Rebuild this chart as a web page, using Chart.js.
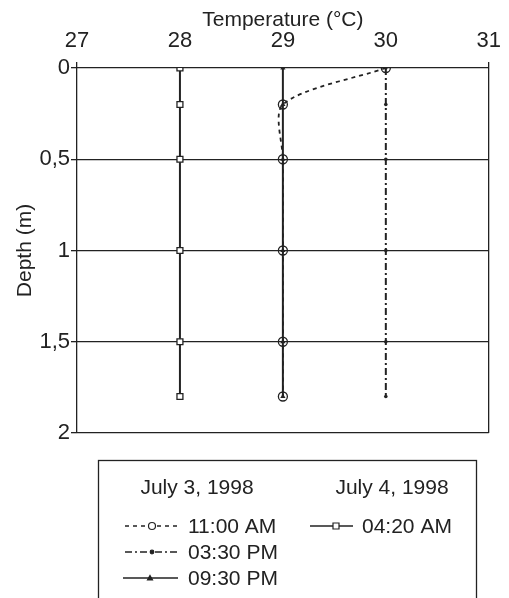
<!DOCTYPE html>
<html>
<head>
<meta charset="utf-8">
<script src="https://cdn.jsdelivr.net/npm/chart.js@4.4.1/dist/chart.umd.min.js"></script>
<style>
	html, body { margin: 0; padding: 0; background: #fff; }
	#wrap { width: 509px; height: 598px; }
</style>
</head>
<body>
<div id="wrap"><canvas id="chart" width="509" height="598"></canvas></div>
<script>
var depths = [0, 0.2, 0.5, 1, 1.5, 1.8];
var temp1100 = [30, 29, 29, 29, 29, 29];
var temp1530 = [30, 30, 30, 30, 30, 30];
var temp2130 = [29, 29, 29, 29, 29, 29];
var temp0420 = [28, 28, 28, 28, 28, 28];
var seriesLabels = ["11:00 AM", "03:30 PM", "09:30 PM", "04:20 AM"];
var dayLabels = ["July 3, 1998", "July 4, 1998"];
var xTicks = [27, 28, 29, 30, 31];
var yTicks = [0, 0.5, 1, 1.5, 2];

var ink = "#222";
var fontFamily = '"Liberation Sans Narrow", "Liberation Sans", Arial, sans-serif';

Chart.defaults.font.family = fontFamily;
Chart.defaults.font.size = 22;
Chart.defaults.color = ink;

function toPoints(temps) {
	var pts = [];
	for (var i = 0; i < depths.length; i++) {
		pts.push({ x: temps[i], y: depths[i] });
	}
	return pts;
}

// marker drawn by hand for the legend samples
function drawMarker(ctx, style, x, y, r, fill) {
	ctx.save();
	ctx.setLineDash([]);
	ctx.lineWidth = 1.2;
	ctx.strokeStyle = ink;
	ctx.fillStyle = fill;
	ctx.beginPath();
	if (style === "circle") {
		ctx.arc(x, y, r, 0, Math.PI * 2);
	} else if (style === "rect") {
		ctx.rect(x - r, y - r, r * 2, r * 2);
	} else if (style === "triangle") {
		ctx.moveTo(x, y - r);
		ctx.lineTo(x + r, y + r * 0.8);
		ctx.lineTo(x - r, y + r * 0.8);
		ctx.closePath();
	}
	ctx.fill();
	ctx.stroke();
	ctx.restore();
}

var legendBox = {
	id: "legendBox",
	afterDraw: function (chart) {
		var ctx = chart.ctx;
		var ds = chart.data.datasets;
		ctx.save();
		ctx.strokeStyle = ink;
		ctx.lineWidth = 1.3;
		ctx.strokeRect(98.5, 460.5, 378, 200);

		ctx.fillStyle = ink;
		ctx.font = "21px " + fontFamily;
		ctx.textAlign = "center";
		ctx.textBaseline = "alphabetic";
		ctx.fillText(dayLabels[0], 197, 494);
		ctx.fillText(dayLabels[1], 392, 494);

		var rows = [
			{ ds: 0, x0: 125, x1: 178, mx: 152, tx: 188, y: 526, marker: "circle", r: 3.5, fill: "#fff" },
			{ ds: 1, x0: 125, x1: 178, mx: 152, tx: 188, y: 552, marker: "circle", r: 1.8, fill: ink },
			{ ds: 2, x0: 123, x1: 178, mx: 150, tx: 188, y: 578, marker: "triangle", r: 2.5, fill: ink },
			{ ds: 3, x0: 310, x1: 353, mx: 336, tx: 362, y: 526, marker: "rect", r: 3, fill: "#fff" }
		];
		rows.forEach(function (row) {
			var d = ds[row.ds];
			ctx.save();
			ctx.strokeStyle = ink;
			ctx.lineWidth = 1.5;
			ctx.setLineDash(d.borderDash || []);
			ctx.beginPath();
			ctx.moveTo(row.x0, row.y);
			ctx.lineTo(row.x1, row.y);
			ctx.stroke();
			ctx.restore();
			drawMarker(ctx, row.marker, row.mx, row.y, row.r, row.fill);
			ctx.textAlign = "left";
			ctx.textBaseline = "middle";
			ctx.fillText(d.label, row.tx, row.y + 1);
		});
		ctx.restore();
	}
};

var chart = new Chart(document.getElementById("chart"), {
	type: "line",
	data: {
		datasets: [
			{
				label: seriesLabels[0],
				data: toPoints(temp1100),
				borderColor: ink,
				borderWidth: 1.8,
				borderDash: [4, 4],
				tension: 0.28,
				pointStyle: "circle",
				pointRadius: 4.5,
				pointBorderWidth: 1.3,
				pointBorderColor: ink,
				pointBackgroundColor: "rgba(0,0,0,0)"
			},
			{
				label: seriesLabels[1],
				data: toPoints(temp1530),
				borderColor: ink,
				borderWidth: 2,
				borderDash: [7, 3, 2, 3],
				tension: 0,
				pointStyle: "circle",
				pointRadius: 1.8,
				pointBorderWidth: 0,
				pointBackgroundColor: ink
			},
			{
				label: seriesLabels[2],
				data: toPoints(temp2130),
				borderColor: ink,
				borderWidth: 2,
				tension: 0,
				pointStyle: "triangle",
				pointRadius: 3,
				pointBorderWidth: 0,
				pointBackgroundColor: ink
			},
			{
				label: seriesLabels[3],
				data: toPoints(temp0420),
				borderColor: ink,
				borderWidth: 2,
				tension: 0,
				pointStyle: "rect",
				pointRadius: 4.2,
				pointBorderWidth: 1.3,
				pointBorderColor: ink,
				pointBackgroundColor: "#fff"
			}
		]
	},
	options: {
		responsive: false,
		animation: false,
		layout: { padding: { left: 0, right: 12, top: 0, bottom: 165 } },
		plugins: {
			legend: { display: false },
			tooltip: { enabled: false }
		},
		scales: {
			x: {
				type: "linear",
				position: "top",
				min: xTicks[0],
				max: xTicks[xTicks.length - 1],
				afterBuildTicks: function (scale) {
					scale.ticks = xTicks.map(function (v) { return { value: v }; });
				},
				afterFit: function (scale) { scale.height = 68; },
				ticks: { padding: 8, font: { size: 22 } },
				grid: {
					drawOnChartArea: true,
					drawTicks: true,
					tickLength: 6,
					lineWidth: 1.3,
					color: function (c) {
						return (c.tick && (c.tick.value === 27 || c.tick.value === 31)) ? ink : "rgba(0,0,0,0)";
					}
				},
				border: { display: false },
				title: {
					display: true,
					text: "Temperature (°C)",
					font: { size: 21 },
					padding: { top: 8, bottom: 0 }
				}
			},
			y: {
				type: "linear",
				reverse: true,
				min: yTicks[0],
				max: yTicks[yTicks.length - 1],
				afterBuildTicks: function (scale) {
					scale.ticks = yTicks.map(function (v) { return { value: v }; });
				},
				afterFit: function (scale) { scale.width = 77; },
				ticks: {
					padding: 1,
					font: { size: 22 },
					callback: function (v) { return String(v).replace(".", ","); }
				},
				grid: { color: ink, lineWidth: 1.3, tickLength: 6 },
				border: { display: false },
				title: {
					display: true,
					text: "Depth (m)",
					font: { size: 21 },
					padding: { top: 13, bottom: 0 }
				}
			}
		}
	},
	plugins: [legendBox]
});
</script>
</body>
</html>
